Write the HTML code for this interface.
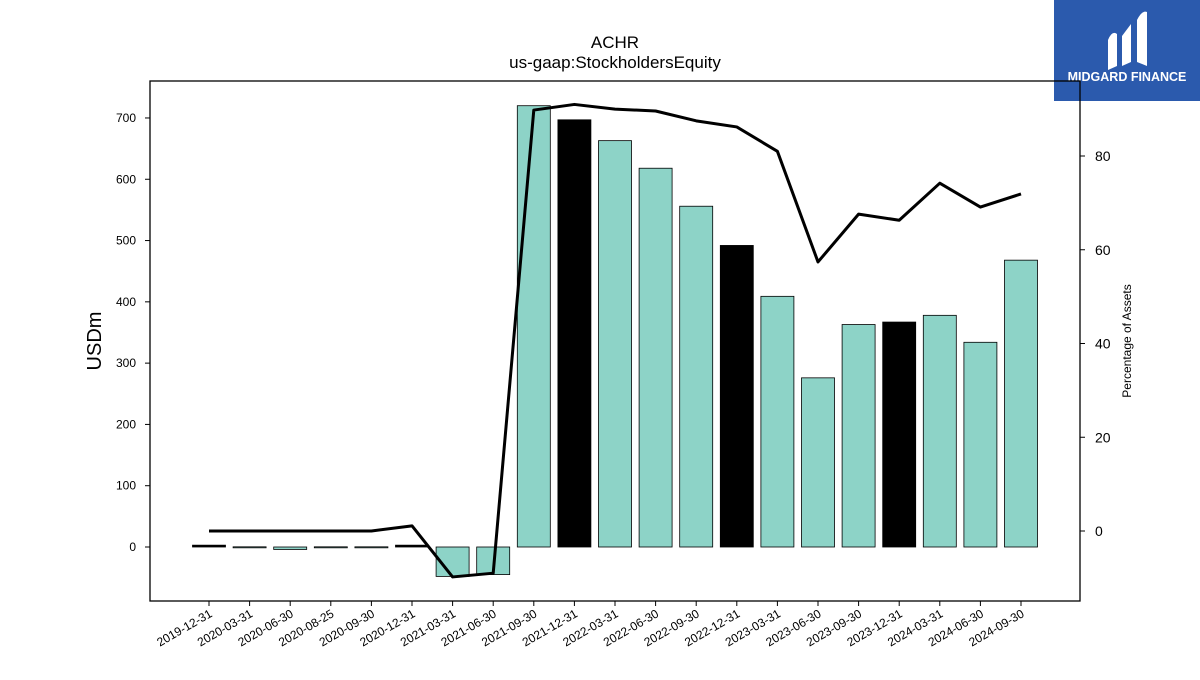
<!DOCTYPE html>
<html><head><meta charset="utf-8"><style>
body{margin:0;background:#fff;font-family:"Liberation Sans",sans-serif}
svg text{font-family:"Liberation Sans","DejaVu Sans",sans-serif}
</style></head><body>
<svg id="chart" width="1200" height="675" xmlns="http://www.w3.org/2000/svg">
<text x="615" y="48" text-anchor="middle" font-size="17">ACHR</text>
<text x="615" y="68" text-anchor="middle" font-size="17">us-gaap:StockholdersEquity</text>
<rect x="1054" y="0" width="146" height="101" fill="#2b5aad"/>
<path d="M1108 70 L1108 40 Q1112 30 1117 34 L1117 66 Z M1122 66 L1122 36 L1131 24 L1131 62 Z M1137 62 L1137 20 Q1142 10 1147 12 L1147 66 Z" fill="#fff"/>
<text x="1127" y="81" text-anchor="middle" font-size="12.5" font-weight="bold" fill="#fff">MIDGARD FINANCE</text>
<g id="plot"></g>
<rect x="150" y="81" width="930" height="520" fill="none" stroke="#000" stroke-width="1.3"/>
<text transform="translate(101,341) rotate(-90)" text-anchor="middle" font-size="20">USDm</text>
<text transform="translate(1131,341) rotate(-90)" text-anchor="middle" font-size="12">Percentage of Assets</text>
</svg>
<script>
const categories=["2019-12-31","2020-03-31","2020-06-30","2020-08-25","2020-09-30","2020-12-31","2021-03-31","2021-06-30","2021-09-30","2021-12-31","2022-03-31","2022-06-30","2022-09-30","2022-12-31","2023-03-31","2023-06-30","2023-09-30","2023-12-31","2024-03-31","2024-06-30","2024-09-30"];
const equityValues=[3,0.3,-4,0.3,0.3,3,-48,-45,720,697,663,618,556,492,409,276,363,367,378,334,468];
const pctValues=[0,0,0,0,0,1.1,-9.8,-9,89.8,91,90,89.6,87.5,86.2,81,57.4,67.6,66.3,74.2,69.1,71.9];
const leftTicks=[0,100,200,300,400,500,600,700];
const rightTicks=[0,20,40,60,80];
const NS="http://www.w3.org/2000/svg";
const g=document.getElementById('plot');
const xPos=i=>209+i*40.6;
const yL=v=>547-v*0.6129;
const yR=v=>531-v*4.6875;
function mk(t,a){const e=document.createElementNS(NS,t);for(const k in a)e.setAttribute(k,a[k]);g.appendChild(e);return e;}
leftTicks.forEach(t=>{
 const l=mk('line',{x1:145,x2:150,y1:yL(t),y2:yL(t),stroke:'#000'});
 
 
 const tx=mk('text',{x:136,y:yL(t)+4,'text-anchor':'end','font-size':12});
 tx.textContent=t;
 
 
});
rightTicks.forEach(t=>{
 const l=mk('line',{x1:1080,x2:1085,y1:yR(t),y2:yR(t),stroke:'#000'});
 
 
 const tx=mk('text',{x:1095,y:yR(t)+5,'font-size':14});
 tx.textContent=t;
 
 
});
categories.forEach((c,i)=>{
 const v=equityValues[i];const x=xPos(i);
 const black=c.endsWith('12-31');
 const y0=Math.min(yL(0),yL(v)),h=Math.max(Math.abs(yL(v)-yL(0)),1);
 const r=mk('rect',{x:x-16.5,y:y0,width:33,height:h,fill:black?'#000':'#8dd3c7',stroke:'#000','stroke-width':0.8});
 
 
 const l=mk('line',{x1:x,x2:x,y1:601,y2:606,stroke:'#000'});
 
 
 const tx=mk('text',{x:x+4,y:616,'text-anchor':'end','font-size':12,transform:`rotate(-30 ${x+4} 616)`});
 tx.textContent=c;
 
 
});
const pts=pctValues.map((v,i)=>xPos(i)+','+yR(v)).join(' ');
const pl=mk('polyline',{points:pts,fill:'none',stroke:'#000','stroke-width':3,'stroke-linejoin':'round'});


</script>
</body></html>
